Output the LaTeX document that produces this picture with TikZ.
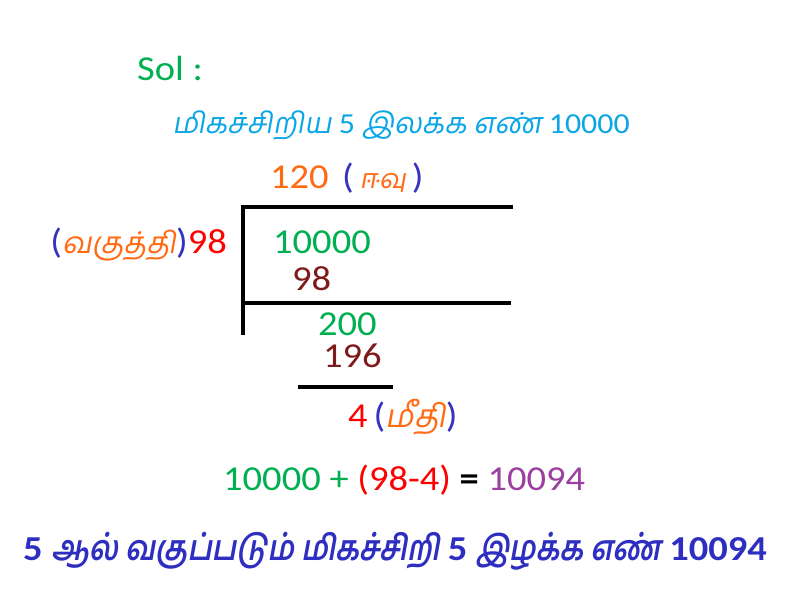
\documentclass[tikz,border=0pt]{standalone}
\usepackage{fontspec}
\setmainfont{Carlito}[FakeStretch=1.1]
\newfontfamily\ta[Script=Tamil,FakeSlant=0.18]{Hind Madurai}
\newfontfamily\tab[Script=Tamil,FakeSlant=0.18,FakeStretch=0.83]{Hind Madurai}
\definecolor{cgreen}{HTML}{00B050}
\definecolor{ccyan}{HTML}{0AA6E6}
\definecolor{corange}{HTML}{FF6A13}
\definecolor{cblue}{HTML}{3333C0}
\definecolor{cred}{HTML}{FF0000}
\definecolor{cmaroon}{HTML}{7F1A1A}
\definecolor{cpurple}{HTML}{9B3FA0}
\definecolor{cdark}{HTML}{2E2EC0}
\tikzset{
  txt/.style={inner sep=0pt, anchor=base west, font=\fontsize{35}{42}\selectfont},
  small/.style={inner sep=0pt, anchor=base, font=\fontsize{29}{35}\selectfont},
  bar/.style={line width=4pt, black}
}
\begin{document}
\begin{tikzpicture}[x=1pt,y=-1pt]
\useasboundingbox[fill=white] (0,0) rectangle (800,600);
\node[txt, text=cgreen] (sol) at (137,80) {Sol :};
\node[small, text=ccyan] (smallest) at (401,133) {{\ta மிகச்சிறிய} 5 {\ta இலக்க எண்} 10000};
\node[txt, text=corange] (quot) at (270,188) {120};
\node[txt] (quotlab) at (342,188) {\textcolor{cblue}{(}\,{\ta\textcolor{corange}{\fontsize{27}{32}\selectfont ஈவு}}\,\textcolor{cblue}{)}};
\coordinate (tl) at (243,207);
\coordinate (tr) at (513,207);
\coordinate (ml) at (243,303);
\coordinate (mr) at (511,303);
\coordinate (bl) at (243,335);
\draw[bar] (tr) -- (tl) -- (bl);
\draw[bar] (ml) -- (mr);
\node[txt, anchor=base east] (divisor) at (227,253) {\textcolor{cblue}{(}{\ta\textcolor{corange}{\fontsize{30}{36}\selectfont வகுத்தி}}\textcolor{cblue}{)}\textcolor{cred}{98}};
\node[txt, text=cgreen] (dividend) at (273,253) {10000};
\node[txt, text=cmaroon] (sub1) at (292,290) {98};
\node[txt, text=cgreen] (rem1) at (318,335) {200};
\node[txt, text=cmaroon] (sub2) at (323,367) {196};
\coordinate (sl) at (298,387);
\coordinate (sr) at (393,387);
\draw[bar] (sl) -- (sr);
\node[txt] (rem) at (348,427) {\textcolor{cred}{4}\,\textcolor{cblue}{(}{\ta\textcolor{corange}{\fontsize{32}{38}\selectfont மீதி}}\textcolor{cblue}{)}};
\node[txt] (eq) at (223,490) {\textcolor{cgreen}{10000 +} \textcolor{cred}{(98-4)} \textbf{=} \textcolor{cpurple}{10094}};
\node[txt, text=cdark, font=\fontsize{35}{42}\selectfont\bfseries] (answer) at (23,560) {5 {\tab ஆல் வகுப்படும் மிகச்சிறி} 5 {\tab இழக்க எண்} 10094};
\end{tikzpicture}
\end{document}
